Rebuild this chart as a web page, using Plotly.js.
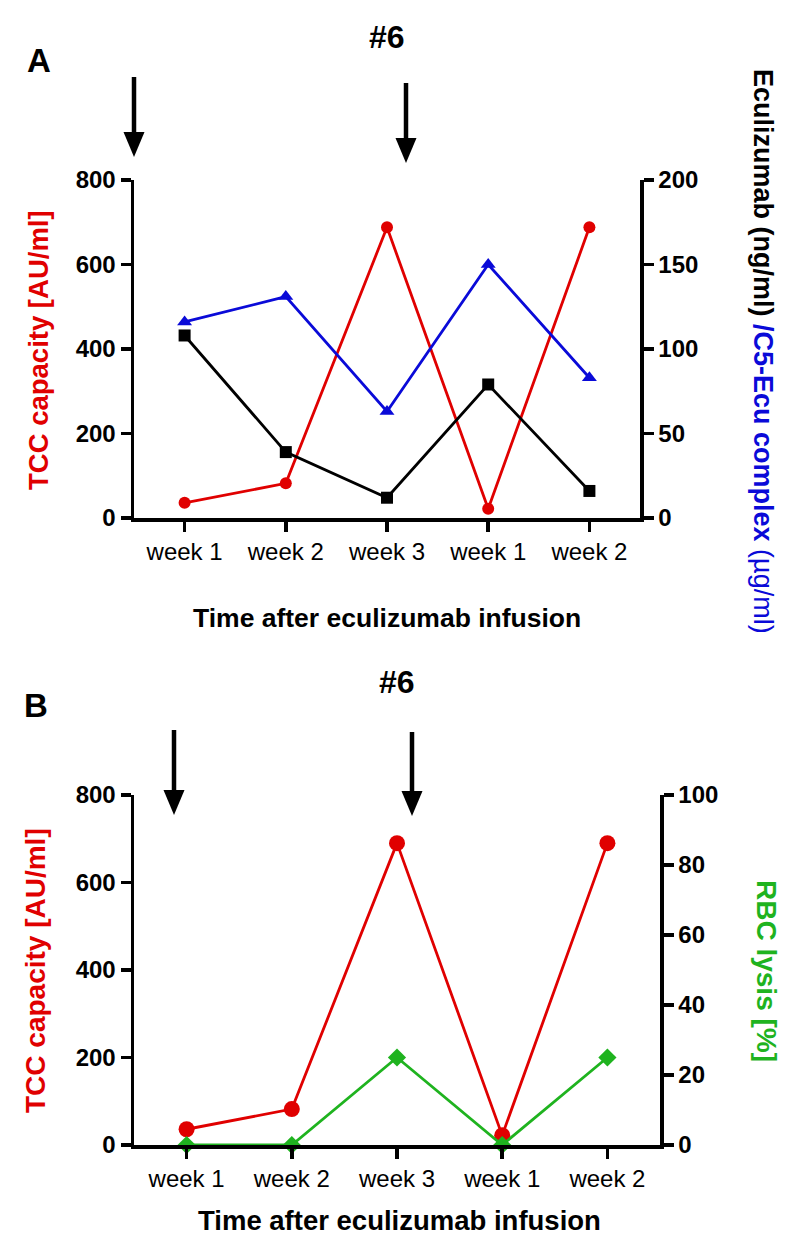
<!DOCTYPE html>
<html>
<head>
<meta charset="utf-8">
<script src="https://cdn.plot.ly/plotly-3.0.1.min.js"></script>
<style>html,body{margin:0;padding:0;background:#fff;}#chart{width:800px;height:1251px;}</style>
</head>
<body>
<div id="chart"></div>
<script>
// ---- data ----
const xPos = [0, 1, 2, 3, 4];
const tickLabels = ['week 1', 'week 2', 'week 3', 'week 1', 'week 2'];
const tccA = [36, 82, 688, 22, 688];          // TCC capacity [AU/ml], panel A (left axis)
const eculizumabA = [108, 39, 12, 79, 16];     // Eculizumab (ng/ml), right axis
const c5EcuA = [116, 131, 63, 150, 83];        // C5-Ecu complex (µg/ml), right axis
const tccB = [36, 82, 690, 22, 690];          // TCC capacity [AU/ml], panel B (left axis)
const rbcLysisB = [0, 0, 25, 0, 25];           // RBC lysis [%], right axis
const leftTicks = [0, 200, 400, 600, 800];
const rightTicksA = [0, 50, 100, 150, 200];
const rightTicksB = [0, 20, 40, 60, 80, 100];

// ---- styles ----
const RED = '#e00000', BLUE = '#0a0ad8', GREEN = '#1fb31f', BLACK = '#000000';
const FONT = 'Liberation Sans, Arial, Helvetica, sans-serif';
const W = 800, H = 1251;
const px = v => v / W;
const py = v => 1 - v / H;

const traces = [
  {x: xPos, y: eculizumabA, xaxis: 'x', yaxis: 'y2', mode: 'lines+markers', cliponaxis: false,
   line: {color: BLACK, width: 2.8}, marker: {symbol: 'square', size: 12, color: BLACK}, name: 'Eculizumab'},
  {x: xPos, y: c5EcuA, xaxis: 'x', yaxis: 'y2', mode: 'lines+markers', cliponaxis: false,
   line: {color: BLUE, width: 2.8}, marker: {symbol: 'triangle-up', size: 13, color: BLUE}, name: 'C5-Ecu complex'},
  {x: xPos, y: tccA, xaxis: 'x', yaxis: 'y', mode: 'lines+markers', cliponaxis: false,
   line: {color: RED, width: 2.8}, marker: {symbol: 'circle', size: 12, color: RED}, name: 'TCC capacity'},
  {x: xPos, y: tccB, xaxis: 'x2', yaxis: 'y3', mode: 'lines+markers', cliponaxis: false,
   line: {color: RED, width: 2.8}, marker: {symbol: 'circle', size: 16, color: RED}, name: 'TCC capacity'},
  {x: xPos, y: rbcLysisB, xaxis: 'x2', yaxis: 'y4', mode: 'lines+markers', cliponaxis: false,
   line: {color: GREEN, width: 2.8}, marker: {symbol: 'diamond', size: 14, color: GREEN}, name: 'RBC lysis'}
];

const xTickFont = {family: FONT, size: 24, color: '#000'};
const yTickFont = {family: FONT, size: 24, color: '#000', weight: 'bold'};
const baseX = {
  range: [-0.5, 4.5], tickmode: 'array', tickvals: xPos, ticktext: tickLabels,
  showgrid: false, zeroline: false, showline: true, linewidth: 3.5, linecolor: '#000',
  ticks: 'outside', ticklen: 10, tickwidth: 3.5, tickcolor: '#000', tickfont: xTickFont, fixedrange: true
};
const baseY = {
  showgrid: false, zeroline: false, showline: true, linewidth: 3.5, linecolor: '#000',
  ticks: 'outside', ticklen: 10, tickwidth: 3.5, tickcolor: '#000', tickfont: yTickFont,
  tickmode: 'array', fixedrange: true
};

const domXA = [px(134), px(640)], domYA = [py(518), py(180)];
const domXB = [px(134), px(660)], domYB = [py(1145), py(795)];

function arrow(x, top, tip) {
  const half = 10.5, head = 25;
  return [
    {type: 'line', xref: 'paper', yref: 'paper', x0: px(x), x1: px(x), y0: py(top), y1: py(tip - head + 2),
     line: {color: '#000', width: 4.5}},
    {type: 'path', xref: 'paper', yref: 'paper',
     path: `M ${px(x - half)} ${py(tip - head)} L ${px(x + half)} ${py(tip - head)} L ${px(x)} ${py(tip)} Z`,
     fillcolor: '#000', line: {color: '#000', width: 0}}
  ];
}

function ann(text, x, y, size, color, angle, extra) {
  return Object.assign({text: text, xref: 'paper', yref: 'paper', x: px(x), y: py(y),
    xanchor: 'center', yanchor: 'middle', showarrow: false, textangle: angle || 0,
    font: {family: FONT, size: size, color: color, weight: 'bold'}}, extra || {});
}

const layout = {
  width: W, height: H, margin: {l: 0, r: 0, t: 0, b: 0},
  paper_bgcolor: '#fff', plot_bgcolor: '#fff', showlegend: false,
  xaxis: Object.assign({}, baseX, {domain: domXA, anchor: 'y'}),
  yaxis: Object.assign({}, baseY, {domain: domYA, anchor: 'x', range: [0, 800], tickvals: leftTicks}),
  yaxis2: Object.assign({}, baseY, {overlaying: 'y', side: 'right', anchor: 'x', range: [0, 200], tickvals: rightTicksA}),
  xaxis2: Object.assign({}, baseX, {domain: domXB, anchor: 'y3'}),
  yaxis3: Object.assign({}, baseY, {domain: domYB, anchor: 'x2', range: [0, 800], tickvals: leftTicks}),
  yaxis4: Object.assign({}, baseY, {overlaying: 'y3', side: 'right', anchor: 'x2', range: [0, 100], tickvals: rightTicksB}),
  shapes: [].concat(arrow(134, 77, 157), arrow(406, 83, 163), arrow(174, 730, 815), arrow(412, 732, 816)),
  annotations: [
    ann('#6', 387, 37, 32, '#000'),
    ann('A', 39, 61, 33, '#000'),
    ann('TCC capacity [AU/ml]', 39, 350, 27.5, RED, -90),
    ann('Eculizumab (ng/ml) <span style="color:' + BLUE + '">/C5-Ecu complex </span><span style="color:' + BLUE + ';font-weight:normal">(µg/ml)</span>',
        763, 351, 27, '#000', 90),
    ann('Time after eculizumab infusion', 387, 618, 26.5, '#000'),
    ann('#6', 397, 682, 32, '#000'),
    ann('B', 36, 705, 33, '#000'),
    ann('TCC capacity [AU/ml]', 35, 971, 28, RED, -90),
    ann('RBC lysis [%]', 767, 971, 28, GREEN, 90),
    ann('Time after eculizumab infusion', 399, 1220, 27.5, '#000')
  ]
};

Plotly.newPlot('chart', traces, layout, {staticPlot: true, displayModeBar: false});
</script>
</body>
</html>
